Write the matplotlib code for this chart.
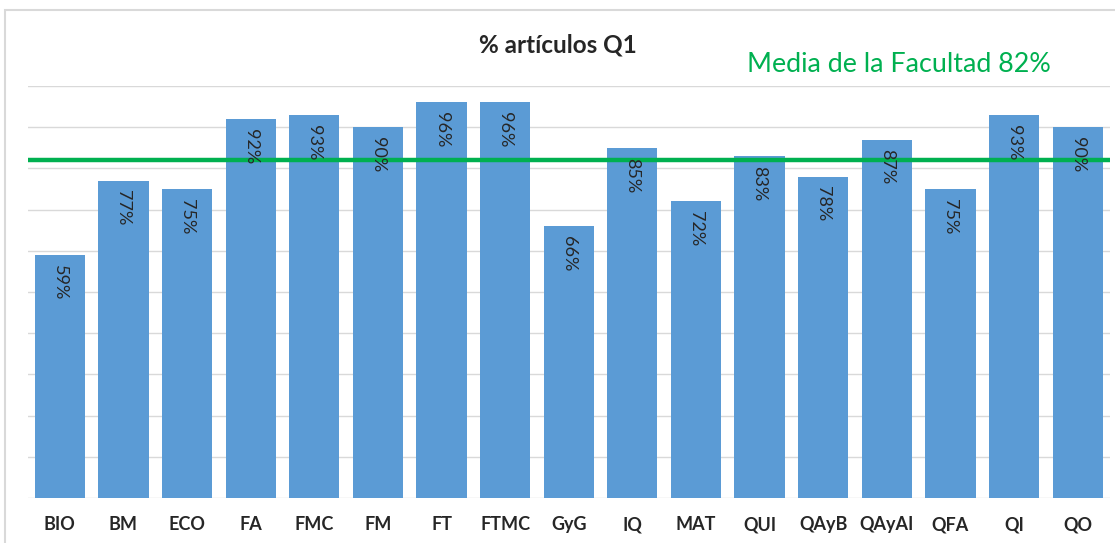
import matplotlib
matplotlib.use("Agg")
import matplotlib.pyplot as plt
from matplotlib.patches import Rectangle

categories = ["BIO", "BM", "ECO", "FA", "FMC", "FM", "FT", "FTMC", "GyG", "IQ",
              "MAT", "QUI", "QAyB", "QAyAI", "QFA", "QI", "QO"]
values = [59, 77, 75, 92, 93, 90, 96, 96, 66, 85, 72, 83, 78, 87, 75, 93, 90]
mean_value = 82
title = "% artículos Q1"
mean_label = "Media de la Facultad 82%"

plt.rcParams['font.family'] = ['Lato', 'DejaVu Sans']

W, H = 1115, 543
fig = plt.figure(figsize=(W / 100, H / 100), dpi=100)
fig.patch.set_facecolor("white")

# outer light border
fig.patches.append(Rectangle((5 / W, -0.1), 1.2, 1 - 10 / H + 0.1, transform=fig.transFigure,
                             fill=False, edgecolor="#D9D9D9", linewidth=1.5))

left, right = 28 / W, 1109.5 / W
bottom, top = 1 - 498 / H, 1 - 86 / H
ax = fig.add_axes([left, bottom, right - left, top - bottom])
x = list(range(len(categories)))
ax.bar(x, values, width=0.79, color="#5B9BD5", zorder=2)
ax.set_xlim(-0.5, len(categories) - 0.5)
ax.set_ylim(0, 100)
ax.set_yticks(range(0, 101, 10))
ax.yaxis.grid(True, color="#D9D9D9", linewidth=1, zorder=0)
ax.set_yticklabels([])
ax.tick_params(axis="y", length=0)
ax.tick_params(axis="x", length=0, pad=13)
ax.set_xticks(x)
ax.set_xticklabels(categories, fontsize=13, fontweight="bold", color="#262626")
for s in ax.spines.values():
    s.set_visible(False)

for xi, v in zip(x, values):
    ax.annotate(f"{v}%", (xi, v), xytext=(0, -7), textcoords="offset points",
                rotation=-90, ha="center", va="top", fontsize=13, color="#262626",
                zorder=4)

ax.axhline(mean_value, color="#00B050", linewidth=3.2, zorder=3)

fig.text(0.5, 1 - 45 / H, title, ha="center", va="center", fontsize=17.5,
         fontweight="bold", color="#262626")
fig.text(899 / W, 1 - 65 / H, mean_label, ha="center", va="center", fontsize=19.4,
         color="#00B050",
         bbox=dict(facecolor="white", edgecolor="none", pad=6))

fig.savefig("out.png", dpi=100, facecolor="white")
